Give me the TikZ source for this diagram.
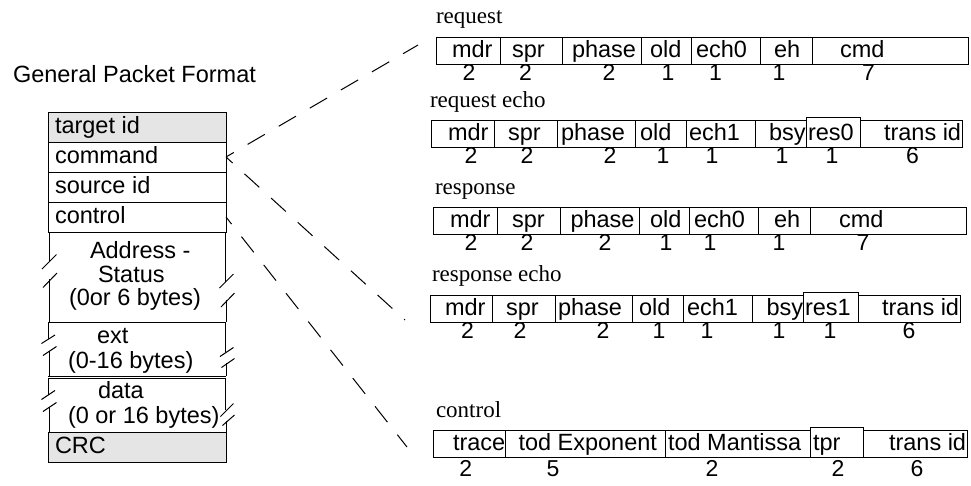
\documentclass[tikz,border=0pt]{standalone}
\usepackage{fontspec}
\setmainfont{Liberation Sans}
\newfontfamily\tmsfont{Liberation Serif}
\begin{document}
\begin{tikzpicture}[x=1pt,y=-1pt,
  every node/.style={inner sep=0pt, outer sep=0pt},
  lt/.style={font=\fontsize{23.5}{28}\selectfont, anchor=base west},
  nm/.style={font=\fontsize{23}{28}\selectfont, anchor=base},
  ttl/.style={font=\tmsfont\fontsize{23}{28}\selectfont, anchor=base west},
  rowbox/.style={draw, line width=1pt, anchor=north west, minimum width=178pt, minimum height=30pt},
  cellln/.style={line width=1pt},
  dashln/.style={line width=1pt, dash pattern=on 20pt off 16pt, dash phase=11pt},
]
\useasboundingbox (0,0) rectangle (971,485);

% ---------- left packet ----------
\node[lt] (gpf) at (13,82) {General Packet Format};
\node[rowbox, fill=gray!20] (tgt) at (48,112) {};
\node[rowbox] (cmdrow) at (48,142) {};
\node[rowbox] (src) at (48,172) {};
\node[rowbox] (ctl) at (48,202) {};
\node[rowbox, fill=gray!20] (crc) at (48,432) {};

% broken rows: horizontal lines
\draw[cellln] (48,322) -- (226,322);
\draw[cellln] (48,376) -- (226,376);
\draw[cellln] (48,378) -- (226,378);
% address sides
\draw[cellln] (49,232) -- (49,262) (49,279) -- (49,322);
\draw[cellln] (225,232) -- (225,282) (226,300) -- (226,322);
\draw[cellln] (42,269) -- (56.5,254.5) (43,287.5) -- (57,273);
\draw[cellln] (219.5,288) -- (233.5,274) (221,307) -- (234.5,293);
% ext sides
\draw[cellln] (48,322) -- (48,339) (49,351) -- (49,376);
\draw[cellln] (225,322) -- (225,352) (226,363) -- (226,376);
\draw[cellln] (41.5,343.5) -- (55,335) (43,355.5) -- (56.5,346.5);
\draw[cellln] (220,356.5) -- (233.5,347.5) (221.5,367.5) -- (234.5,358.5);
% data sides
\draw[cellln] (48,378) -- (48,395) (49,407) -- (49,432);
\draw[cellln] (225,378) -- (225,410) (226,421) -- (226,432);
\draw[cellln] (41.5,399.5) -- (55,390.5) (43,411.5) -- (56.5,402.5);
\draw[cellln] (220.5,416.5) -- (233.5,403.5) (222.5,425.5) -- (234.5,415);

\node[lt] (t1) at (55,133) {target id};
\node[lt] (t2) at (55,163) {command};
\node[lt] (t3) at (55,193) {source id};
\node[lt] (t4) at (55,223) {control};
\node[lt] (t5a) at (90,258) {Address -};
\node[lt] (t5b) at (98,282) {Status};
\node[lt] (t5c) at (69,305) {(0or 6 bytes)};
\node[lt] (t6a) at (97,343) {ext};
\node[lt] (t6b) at (68,368) {(0-16 bytes)};
\node[lt] (t7a) at (98,398) {data};
\node[lt] (t7b) at (68,423) {(0 or 16 bytes)};
\node[lt] (t8) at (55,453) {CRC};

% ---------- row 1: request ----------
\node[ttl] (h1) at (436,23) {request};
\draw[cellln] (436,37) rectangle (968,64);
\foreach \x in {500,562.5,641,691,760.5,812} \draw[cellln] (\x,37) -- (\x,64);
\node[lt] (a1) at (452,57) {mdr};
\node[lt] (a2) at (512,57) {spr};
\node[lt] (a3) at (572,57) {phase};
\node[lt] (a4) at (650,57) {old};
\node[lt] (a5) at (696,57) {ech0};
\node[lt] (a6) at (774,57) {eh};
\node[lt] (a7) at (840,57) {cmd};
\foreach \x/\n [count=\i] in {469/2,525.5/2,609/2,668/1,715.5/1,779/1,868.5/7}
  \node[nm] (an\i) at (\x,80) {\n};

% ---------- row 2: request echo ----------
\node[ttl] (h2) at (430,107) {request echo};
\draw[cellln] (431,120) rectangle (962,147);
\foreach \x in {494,557,635,686,755} \draw[cellln] (\x,120) -- (\x,147);
\draw[cellln, fill=white] (806,117) rectangle (860,147);
\node[lt] (b1) at (448,140) {mdr};
\node[lt] (b2) at (508,140) {spr};
\node[lt] (b3) at (561,140) {phase};
\node[lt] (b4) at (640,140) {old};
\node[lt] (b5) at (689,140) {ech1};
\node[lt] (b6) at (769,140) {bsy};
\node[lt] (b7) at (808,140) {res0};
\node[lt] (b8) at (884,140) {trans id};
\foreach \x/\n [count=\i] in {471/2,527/2,610/2,663/1,712/1,782/1,832/1,912.5/6}
  \node[nm] (bn\i) at (\x,163) {\n};

% ---------- row 3: response ----------
\node[ttl] (h3) at (435,194) {response};
\draw[cellln] (433.5,207) rectangle (966,234);
\foreach \x in {497,560,639,689,758.5,810} \draw[cellln] (\x,207) -- (\x,234);
\node[lt] (c1) at (450,227) {mdr};
\node[lt] (c2) at (512,227) {spr};
\node[lt] (c3) at (570.5,227) {phase};
\node[lt] (c4) at (650,227) {old};
\node[lt] (c5) at (694,227) {ech0};
\node[lt] (c6) at (774,227) {eh};
\node[lt] (c7) at (839,227) {cmd};
\foreach \x/\n [count=\i] in {471/2,527/2,605/2,666/1,710/1,779/1,863/7}
  \node[nm] (cn\i) at (\x,250) {\n};

% ---------- row 4: response echo ----------
\node[ttl] (h4) at (432,281) {response echo};
\draw[cellln] (430,295) rectangle (960,322);
\foreach \x in {492,555.5,632,683,752.5} \draw[cellln] (\x,295) -- (\x,322);
\draw[cellln, fill=white] (803.5,292) rectangle (858,322);
\node[lt] (d1) at (445,315) {mdr};
\node[lt] (d2) at (506,315) {spr};
\node[lt] (d3) at (558,315) {phase};
\node[lt] (d4) at (639,315) {old};
\node[lt] (d5) at (687,315) {ech1};
\node[lt] (d6) at (766.5,315) {bsy};
\node[lt] (d7) at (805,315) {res1};
\node[lt] (d8) at (882,315) {trans id};
\foreach \x/\n [count=\i] in {467.5/2,520/2,603/2,659/1,707/1,779/1,830/1,909/6}
  \node[nm] (dn\i) at (\x,338) {\n};

% ---------- row 5: control ----------
\node[ttl] (h5) at (436,417) {control};
\draw[cellln] (433.5,430) rectangle (967,457);
\foreach \x in {505.5,665} \draw[cellln] (\x,430) -- (\x,457);
\draw[cellln, fill=white] (810,427) rectangle (863,457);
\node[lt] (e1) at (453,450) {trace};
\node[lt] (e2) at (518.5,450) {tod Exponent};
\node[lt] (e3) at (668,450) {tod Mantissa};
\node[lt] (e4) at (813,450) {tpr};
\node[lt] (e5) at (889,450) {trans id};
\foreach \x/\n [count=\i] in {465.7/2,553/5,712/2,838/2,917/6}
  \node[nm] (en\i) at (\x,476) {\n};

% ---------- dashed connectors ----------
\coordinate (reqend) at (418,45);
\coordinate (rspend) at (405,320);
\coordinate (ctlend) at (407,447);
\draw[dashln] (cmdrow.east) -- (reqend);
\draw[dashln] (cmdrow.east) -- (rspend);
\draw[dashln] (ctl.east) -- (ctlend);
\end{tikzpicture}
\end{document}
